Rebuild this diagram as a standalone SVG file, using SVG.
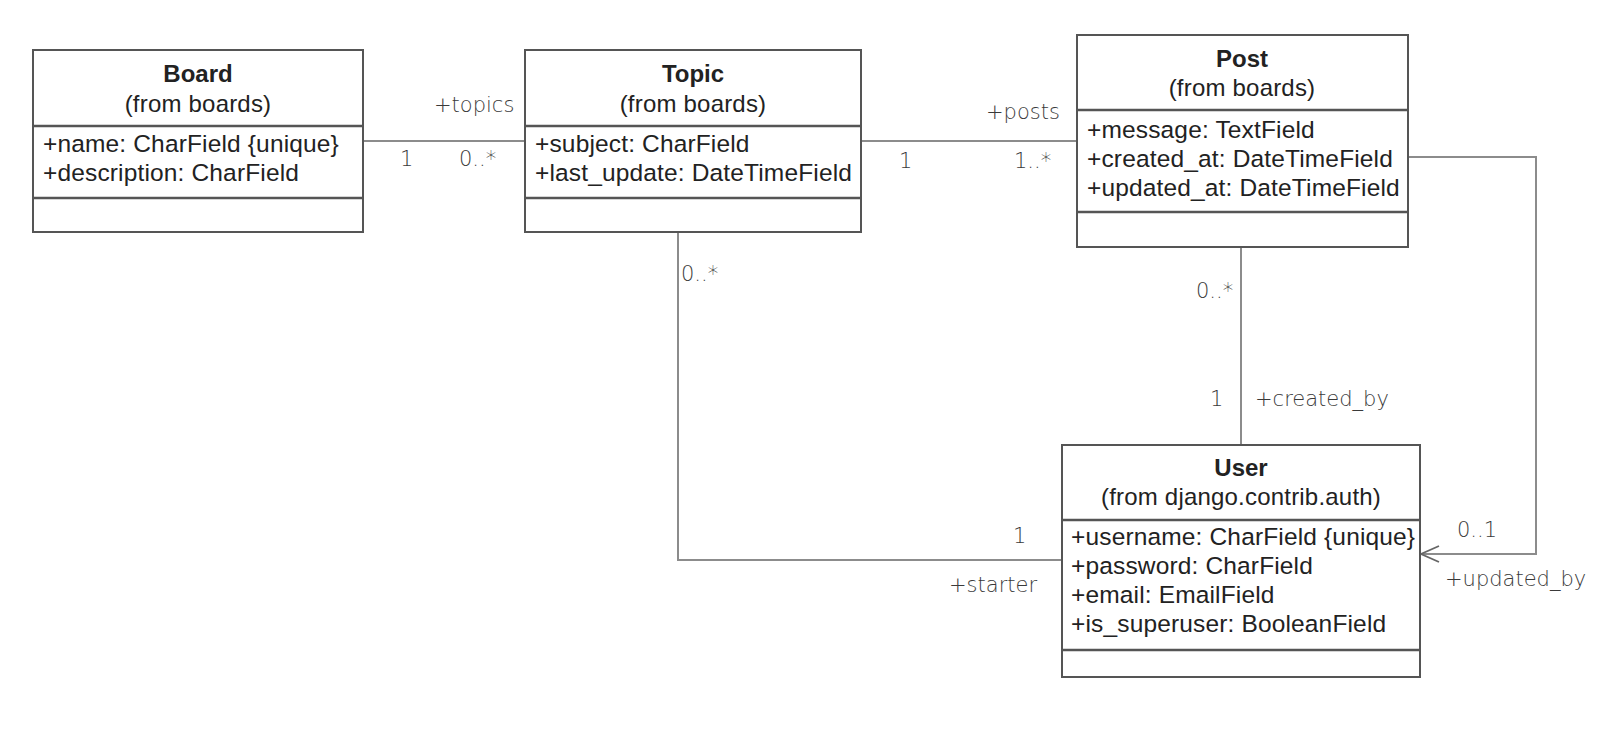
<svg xmlns="http://www.w3.org/2000/svg" width="1610" height="733" viewBox="0 0 1610 733">
  <style>
    .box { fill: #ffffff; stroke: #555555; stroke-width: 2; }
    .div { stroke: #555555; stroke-width: 2.5; }
    .name { font-family: "Liberation Sans", Arial, sans-serif; font-size: 24px; font-weight: bold; fill: #222222; text-anchor: middle; }
    .pkg { font-family: "Liberation Sans", Arial, sans-serif; font-size: 24px; letter-spacing: 0.2px; fill: #222222; text-anchor: middle; }
    .attr { font-family: "Liberation Sans", Arial, sans-serif; font-size: 24.5px; letter-spacing: 0.15px; fill: #222222; }
    .edge { fill: none; stroke: #8c8c8c; stroke-width: 2; }
    .lbl { font-family: "DejaVu Sans ExtraLight", "DejaVu Sans", sans-serif; font-weight: 200; font-size: 21px; fill: #3a3a3a; }
  </style>
  <defs>
    <marker id="open-arrow" markerWidth="22" markerHeight="20" refX="19" refY="9" orient="auto" markerUnits="userSpaceOnUse">
      <path d="M1,1 L19,9 L1,17" fill="none" stroke="#666666" stroke-width="1.8"/>
    </marker>
  </defs>
  <rect width="1610" height="733" fill="#ffffff"/>

  <!-- associations -->
  <g id="connectors">
    <line class="edge" x1="363" y1="141" x2="525" y2="141"/>
    <line class="edge" x1="861" y1="141" x2="1077" y2="141"/>
    <polyline class="edge" points="678,232 678,560 1062,560"/>
    <line class="edge" x1="1241" y1="247" x2="1241" y2="445"/>
    <polyline class="edge" points="1408,157 1536,157 1536,554 1421,554" marker-end="url(#open-arrow)"/>

    <text class="lbl" x="434" y="112">+topics</text>
    <text class="lbl" x="400" y="166">1</text>
    <text class="lbl" x="459" y="166">0..*</text>

    <text class="lbl" x="986" y="119">+posts</text>
    <text class="lbl" x="899" y="168">1</text>
    <text class="lbl" x="1014" y="168">1..*</text>

    <text class="lbl" x="681" y="281">0..*</text>
    <text class="lbl" x="1013" y="543">1</text>
    <text class="lbl" x="949" y="592">+starter</text>

    <text class="lbl" x="1196" y="298">0..*</text>
    <text class="lbl" x="1210" y="406">1</text>
    <text class="lbl" x="1255" y="406">+created_by</text>

    <text class="lbl" x="1457" y="537">0..1</text>
    <text class="lbl" x="1445" y="586">+updated_by</text>
  </g>

  <!-- Board -->
  <g id="board">
    <rect class="box" x="33" y="50" width="330" height="182"/>
    <line class="div" x1="33" y1="126" x2="363" y2="126"/>
    <line class="div" x1="33" y1="198" x2="363" y2="198"/>
    <text class="name" x="198" y="82">Board</text>
    <text class="pkg" x="198" y="112">(from boards)</text>
    <text class="attr" x="43" y="152">+name: CharField {unique}</text>
    <text class="attr" x="43" y="181">+description: CharField</text>
  </g>

  <!-- Topic -->
  <g id="topic">
    <rect class="box" x="525" y="50" width="336" height="182"/>
    <line class="div" x1="525" y1="126" x2="861" y2="126"/>
    <line class="div" x1="525" y1="198" x2="861" y2="198"/>
    <text class="name" x="693" y="82">Topic</text>
    <text class="pkg" x="693" y="112">(from boards)</text>
    <text class="attr" x="535" y="152">+subject: CharField</text>
    <text class="attr" x="535" y="181">+last_update: DateTimeField</text>
  </g>

  <!-- Post -->
  <g id="post">
    <rect class="box" x="1077" y="35" width="331" height="212"/>
    <line class="div" x1="1077" y1="110" x2="1408" y2="110"/>
    <line class="div" x1="1077" y1="212" x2="1408" y2="212"/>
    <text class="name" x="1242" y="67">Post</text>
    <text class="pkg" x="1242" y="96">(from boards)</text>
    <text class="attr" x="1087" y="138">+message: TextField</text>
    <text class="attr" x="1087" y="167">+created_at: DateTimeField</text>
    <text class="attr" x="1087" y="196">+updated_at: DateTimeField</text>
  </g>

  <!-- User -->
  <g id="user">
    <rect class="box" x="1062" y="445" width="358" height="232"/>
    <line class="div" x1="1062" y1="520" x2="1420" y2="520"/>
    <line class="div" x1="1062" y1="650" x2="1420" y2="650"/>
    <text class="name" x="1241" y="476">User</text>
    <text class="pkg" x="1241" y="505">(from django.contrib.auth)</text>
    <text class="attr" x="1071" y="545">+username: CharField {unique}</text>
    <text class="attr" x="1071" y="574">+password: CharField</text>
    <text class="attr" x="1071" y="603">+email: EmailField</text>
    <text class="attr" x="1071" y="632">+is_superuser: BooleanField</text>
  </g>
</svg>
